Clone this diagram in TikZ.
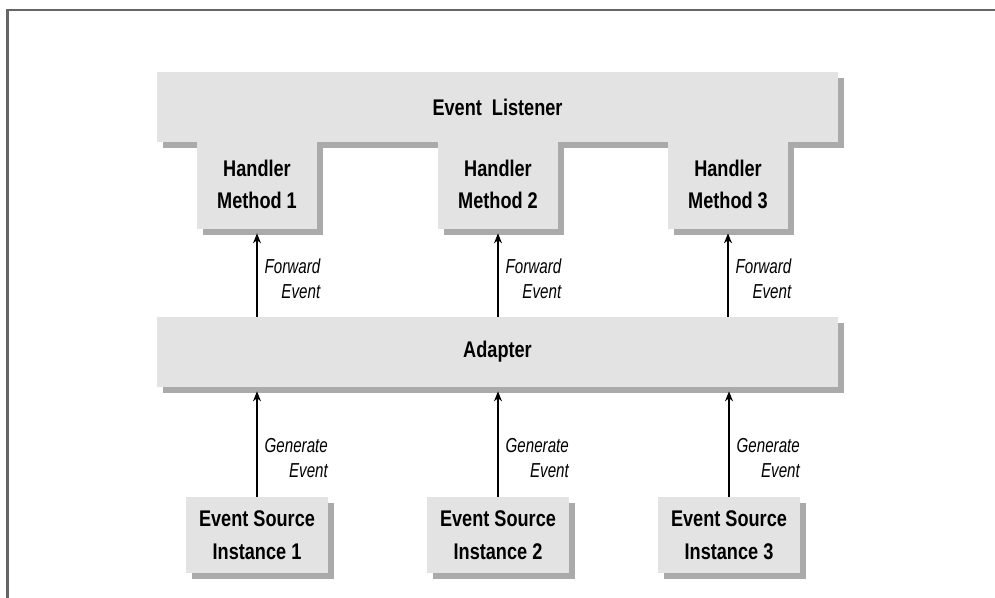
\documentclass[tikz,border=0pt]{standalone}
\usepackage{fontspec}
\newfontfamily\boxfont{Liberation Sans}[FakeStretch=0.8]
\newfontfamily\lblfont{Liberation Sans}[FakeStretch=0.75]
\usetikzlibrary{arrows.meta, positioning, shadows}
\definecolor{boxgray}{HTML}{E3E3E3}
\definecolor{shadowgray}{HTML}{AAAAAA}
\definecolor{framegray}{HTML}{666666}

\begin{document}
\begin{tikzpicture}[
    part/.style={fill=boxgray, inner sep=0pt, align=center,
      font=\boxfont\bfseries\fontsize{12.9}{18.5}\selectfont,
      drop shadow={shadow xshift=.12cm, shadow yshift=-.12cm,
        fill=shadowgray, opacity=1}},
    bar/.style={part, minimum width=13.62cm, minimum height=1.4cm},
    tab/.style={part, minimum width=2.4cm, minimum height=1.78cm},
    source/.style={part, minimum width=2.84cm, minimum height=1.52cm},
    flow/.style={-{Stealth[length=2mm,width=1.6mm]}, line width=.75pt, shorten >=.08cm},
    lbl/.style={anchor=west, inner sep=0pt, xshift=.14cm, align=right,
      font=\lblfont\itshape\fontsize{11.5}{14.2}\selectfont}]
  \useasboundingbox (0,0) rectangle (19.9,-11.96);

    % frame
    \draw[framegray, line width=1.4pt] (.15,-11.96) -- (.15,-.2) -- (19.9,-.2);

    % listener with its handler methods
    \node[bar] (listener) at (9.95,-2.14) {Event\ \ Listener};
    \node[tab] (h1) at ( 5.14,-3.69) {Handler\\Method 1};
    \node[tab] (h2) at ( 9.96,-3.69) {Handler\\Method 2};
    \node[tab] (h3) at (14.56,-3.69) {Handler\\Method 3};

    % adapter
    \node[bar] (adapter) at (9.95,-7.04) {Adapter};

    % event sources
    \node[source] (s1) at ( 5.14,-10.70) {Event Source\\Instance 1};
    \node[source] (s2) at ( 9.96,-10.70) {Event Source\\Instance 2};
    \node[source] (s3) at (14.58,-10.70) {Event Source\\Instance 3};

    % adapter -> handlers
    \draw[flow] (adapter.north -| h1) -- node[lbl, pos=.43] {Forward\\Event} (h1.south);
    \draw[flow] (adapter.north -| h2) -- node[lbl, pos=.43] {Forward\\Event} (h2.south);
    \draw[flow] (adapter.north -| h3) -- node[lbl, pos=.43] {Forward\\Event} (h3.south);

    % sources -> adapter
    \draw[flow] (s1.north) -- node[lbl, pos=.35] {Generate\\Event} (adapter.south -| s1);
    \draw[flow] (s2.north) -- node[lbl, pos=.35] {Generate\\Event} (adapter.south -| s2);
    \draw[flow] (s3.north) -- node[lbl, pos=.35] {Generate\\Event} (adapter.south -| s3);

\end{tikzpicture}
\end{document}
